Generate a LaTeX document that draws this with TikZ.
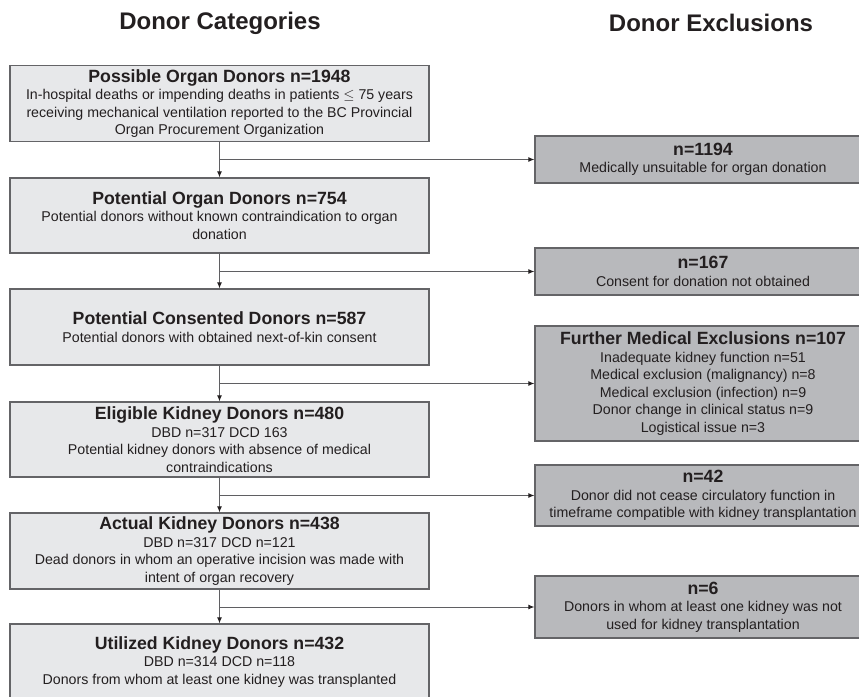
\documentclass[tikz,border=0pt]{standalone}
\usepackage{fontspec}
\setmainfont{Liberation Sans}
\usepackage{xcolor}
\usepackage{tikz}
\usetikzlibrary{positioning,calc,arrows.meta}

\definecolor{catfill}{RGB}{231,232,234}
\definecolor{exfill}{RGB}{184,185,188}
\definecolor{boxline}{RGB}{100,100,103}
\definecolor{wire}{RGB}{95,95,98}
\definecolor{ink}{RGB}{35,31,32}

\newcommand{\hd}[1]{{\fontsize{17.7}{20}\selectfont\bfseries #1}}

\begin{document}
\begin{tikzpicture}[
		x=1pt, y=-1pt, % pixel units
		catbox/.style={
			draw=boxline, fill=catfill, line width=1.3pt,
			minimum width=419pt, minimum height=76pt,
			inner sep=2pt, align=center, text=ink,
			font=\fontsize{14.2}{17.5}\selectfont
		},
		exbox/.style={
			catbox, fill=exfill, minimum width=336pt
		},
		colhead/.style={
			font=\fontsize{24}{26}\selectfont\bfseries, text=ink
		},
		arr/.style={
			-{Latex[length=6pt,width=5pt,color=ink]}, draw=wire, line width=0.9pt
		}
		]
		\useasboundingbox (0,0) rectangle (859,696);
		
		% Kopfzeilen
		\node[colhead] (hcat) at (220,23) {Donor Categories};
		\node[colhead] (hexc) at (711,23) {Donor Exclusions};
		
		% Donor categories
		\node[catbox] (possible) at (219.5,103.5) {\hd{Possible Organ Donors n=1948}\\
			In-hospital deaths or impending deaths in patients $\leq$ 75 years\\
			receiving mechanical ventilation reported to the BC Provincial\\
			Organ Procurement Organization};
		\node[catbox, minimum height=75pt] (potential) at (219.5,215.5) {\hd{Potential Organ Donors n=754}\\
			Potential donors without known contraindication to organ\\
			donation};
		\node[catbox] (consented) at (219.5,327) {\hd{Potential Consented Donors n=587}\\
			Potential donors with obtained next-of-kin consent};
		\node[catbox, minimum height=75pt] (eligible) at (219.5,439.5) {\hd{Eligible Kidney Donors n=480}\\
			DBD n=317 DCD 163\\
			Potential kidney donors with absence of medical\\
			contraindications};
		\node[catbox] (actual) at (219.5,551) {\hd{Actual Kidney Donors n=438}\\
			DBD n=317 DCD n=121\\
			Dead donors in whom an operative incision was made with\\
			intent of organ recovery};
		\node[catbox] (utilized) at (219.5,662) {\hd{Utilized Kidney Donors n=432}\\
			DBD n=314 DCD n=118\\
			Donors from whom at least one kidney was transplanted};
		
		% Donor exclusions
		\node[exbox, minimum height=47pt] (exmed) at (703,159.5) {\hd{n=1194}\\
			Medically unsuitable for organ donation};
		\node[exbox, minimum height=47pt] (excons) at (703,271.5) {\hd{n=167}\\
			Consent for donation not obtained};
		\node[exbox, minimum height=115pt] (exfurther) at (703,383.5) {\hd{Further Medical Exclusions n=107}\\
			Inadequate kidney function n=51\\
			Medical exclusion (malignancy) n=8\\
			Medical exclusion (infection) n=9\\
			Donor change in clinical status n=9\\
			Logistical issue n=3};
		\node[exbox, minimum height=61pt] (excirc) at (703,495.5) {\hd{n=42}\\
			Donor did not cease circulatory function in\\
			timeframe compatible with kidney transplantation};
		\node[exbox, minimum height=62pt] (exunused) at (703,607) {\hd{n=6}\\
			Donors in whom at least one kidney was not\\
			used for kidney transplantation};
		
		% Pfeile nach unten
		\draw[arr] (possible) -- (potential);
		\draw[arr] (potential) -- (consented);
		\draw[arr] (consented) -- (eligible);
		\draw[arr] (eligible) -- (actual);
		\draw[arr] (actual) -- (utilized);
		
		% Pfeile nach rechts
		\draw[arr] (possible.south |- exmed.west) -- (exmed.west);
		\draw[arr] (potential.south |- excons.west) -- (excons.west);
		\draw[arr] (consented.south |- exfurther.west) -- (exfurther.west);
		\draw[arr] (eligible.south |- excirc.west) -- (excirc.west);
		\draw[arr] (actual.south |- exunused.west) -- (exunused.west);
		
	\end{tikzpicture}
\end{document}
